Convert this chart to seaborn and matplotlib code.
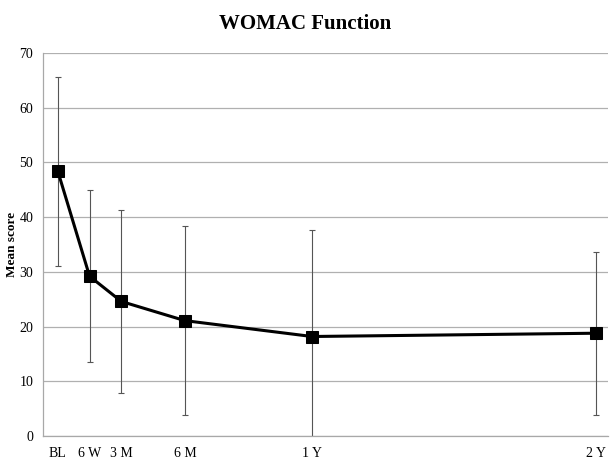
import numpy as np
import pandas as pd
import seaborn as sns
from matplotlib import pyplot as plt

# time points (months after baseline) and labels
labels = ['BL', '6 W', '3 M', '6 M', '1 Y', '2 Y']
months = [0, 1.5, 3, 6, 12, 25.4]
mean_score = [48.4, 29.2, 24.6, 21.1, 18.2, 18.8]
sd_score = [17.3, 15.7, 16.8, 17.3, 19.5, 14.9]

df = pd.DataFrame({'month': months, 'score': mean_score, 'sd': sd_score})

sns.set_style('white')
plt.rcParams['font.family'] = ['Liberation Serif', 'DejaVu Serif']
plt.rcParams['text.color'] = 'black'

fig = plt.figure(figsize=(6.1, 4.61), dpi=100)
ax = fig.add_axes([0.0705, 0.054, 0.927, 0.831])

# error bars (mean +/- SD)
ax.errorbar(df['month'], df['score'], yerr=df['sd'], fmt='none',
            ecolor='#555555', elinewidth=0.8, capsize=2, capthick=0.8, zorder=2)

sns.lineplot(data=df, x='month', y='score', ax=ax, color='black',
             linewidth=2.2, marker='s', markersize=8, markeredgecolor='black',
             zorder=3)

ax.set_xlim(-0.7, 26.0)
ax.set_ylim(0, 70)
ax.set_yticks(range(0, 71, 10))
ax.set_xticks(months)
ax.set_xticklabels(labels)
ax.yaxis.grid(True, color='#b0b0b0', linewidth=0.9)
ax.set_axisbelow(True)

for side in ['top', 'right']:
    ax.spines[side].set_visible(False)
for side in ['left', 'bottom']:
    ax.spines[side].set_color('#a8a8a8')
    ax.spines[side].set_linewidth(0.9)

ax.tick_params(axis='both', length=0, labelsize=10, colors='black')
ax.tick_params(axis='x', pad=8)
ax.tick_params(axis='y', pad=7)
ax.set_xlabel('')
ax.set_ylabel('Mean score', fontsize=9.5, fontweight='bold', color='black')
ax.yaxis.set_label_coords(-0.044, 0.5)

fig.suptitle('WOMAC Function', fontsize=15, fontweight='bold', y=0.97,
             color='black')

plt.savefig('out.png', dpi=100)
